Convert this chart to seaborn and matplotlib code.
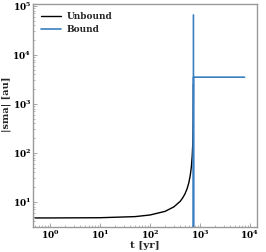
import matplotlib
matplotlib.use("Agg")
import matplotlib.pyplot as plt
import seaborn as sns
import pandas as pd

# Unbound branch: time [yr] and |sma| [au]
t_unbound = [0.5, 1, 10, 50, 100, 200, 300, 400, 450, 500, 550, 600, 640,
             670, 700, 715, 725, 732, 737, 739]
sma_unbound = [4.7, 4.7, 4.75, 5.0, 5.4, 6.4, 7.9, 10.2, 12.0, 14.5, 18.3,
               24.8, 35, 50, 87, 140, 250, 450, 1200, 2500]

# Bound branch
t_bound = [740, 741, 742, 7800]
sma_bound = [6.5e4, 2.0, 3500, 3500]

sns.set_theme(style="white")
plt.rcParams['font.family'] = ['DejaVu Serif']
plt.rcParams['font.weight'] = 'bold'
plt.rcParams['axes.labelweight'] = 'bold'

df_u = pd.DataFrame({"t": t_unbound, "sma": sma_unbound})
df_b = pd.DataFrame({"t": t_bound, "sma": sma_bound})

fig, ax = plt.subplots(figsize=(2.66, 2.52), dpi=100)
sns.lineplot(data=df_u, x="t", y="sma", color="black", lw=1.0, ax=ax,
             label="Unbound", sort=False, estimator=None)
sns.lineplot(data=df_b, x="t", y="sma", color="#3a7fc0", lw=1.2, ax=ax,
             label="Bound", sort=False, estimator=None)

ax.set_xscale("log")
ax.set_yscale("log")
ax.set_xlim(0.46, 1.4e4)
ax.set_ylim(3.1, 1.1e5)
ax.set_xlabel("t [yr]", fontsize=7.5, fontweight="bold", labelpad=0)
ax.set_ylabel("|sma| [au]", fontsize=7, fontweight="bold", labelpad=1)
ax.yaxis.set_label_coords(-0.1, 0.55)
ax.tick_params(which="both", direction="in", labelsize=6.5, colors="#999999",
               labelcolor="black", pad=1.5)
ax.tick_params(which="major", length=3, width=0.6)
ax.tick_params(which="minor", length=1.5, width=0.5)
ax.tick_params(axis="both", which="both", left=True, bottom=True)
for s in ax.spines.values():
    s.set_color("#999999")
    s.set_linewidth(1.0)

leg = ax.legend(loc="upper left", frameon=False, fontsize=6.5,
                handlelength=2.2, handletextpad=0.6, borderaxespad=0.5)
for txt in leg.get_texts():
    txt.set_fontweight("bold")

fig.subplots_adjust(left=0.125, right=0.967, top=0.985, bottom=0.1)
fig.savefig("out.png", dpi=100)
